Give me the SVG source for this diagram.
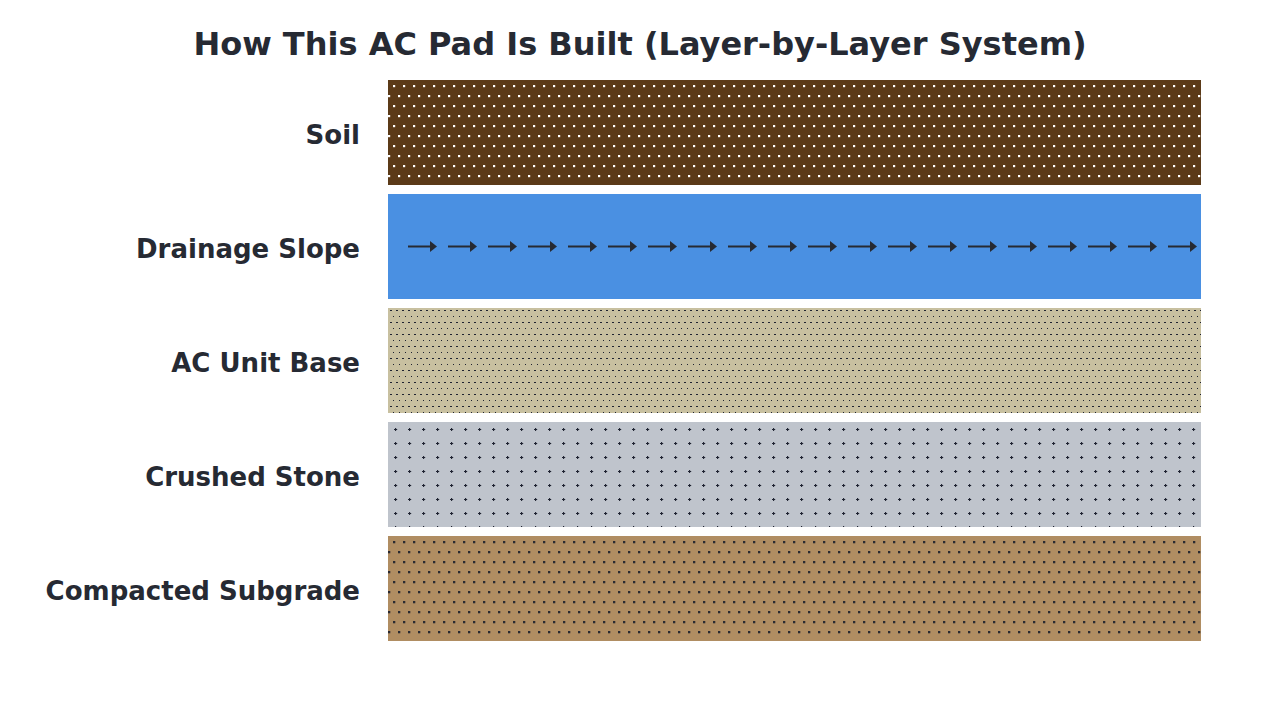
<svg xmlns="http://www.w3.org/2000/svg" xmlns:xlink="http://www.w3.org/1999/xlink" width="1280" height="720" viewBox="0 0 1280 720">
  <style>
    .title { font-family: "DejaVu Sans", "Liberation Sans", sans-serif; font-weight: bold; font-size: 32px; fill: #262a33; text-anchor: middle; }
    .label { font-family: "DejaVu Sans", "Liberation Sans", sans-serif; font-weight: bold; font-size: 26px; fill: #262a33; text-anchor: end; }
  </style>
  <defs>
    <pattern id="pSoil" patternUnits="userSpaceOnUse" x="388" y="80" width="10" height="20">
      <rect x="5" y="5" width="2.2" height="2.2" fill="#ffffff"/>
      <rect x="0" y="15" width="2.2" height="2.2" fill="#ffffff"/>
    </pattern>
    <pattern id="pBase" patternUnits="userSpaceOnUse" x="388" y="308" width="6" height="12">
      <rect x="2" y="2" width="2" height="1" fill="#1e2230"/>
      <rect x="5" y="8" width="2" height="1" fill="#1e2230"/>
    </pattern>
    <pattern id="pStone" patternUnits="userSpaceOnUse" x="388" y="422" width="14" height="14">
      <path d="M6 7.5 H9.2 M7.6 5.9 V9.1" stroke="#1e2230" stroke-width="1.1"/>
    </pattern>
    <pattern id="pSub" patternUnits="userSpaceOnUse" x="388" y="536" width="10" height="20">
      <rect x="5" y="5" width="2.3" height="2.3" fill="#2a2a30"/>
      <rect x="0" y="15" width="2.3" height="2.3" fill="#2a2a30"/>
    </pattern>
    <g id="arrow">
      <line x1="0" y1="0" x2="23" y2="0" stroke="#262a33" stroke-width="2"/>
      <polygon points="22,-5.5 29,0 22,5.5" fill="#262a33"/>
    </g>
  </defs>
  <rect width="1280" height="720" fill="#ffffff"/>
  <text class="title" x="640" y="55">How This AC Pad Is Built (Layer-by-Layer System)</text>

  <g id="soil">
    <rect x="388" y="80" width="813" height="105" fill="#5b3a18"/>
    <rect x="388" y="80" width="813" height="105" fill="url(#pSoil)"/>
    <text class="label" x="360" y="143.5">Soil</text>
  </g>

  <g id="drainage-slope">
    <rect x="388" y="194" width="813" height="105" fill="#4a90e2"/>
    <g transform="translate(0,246.5)">
      <use xlink:href="#arrow" x="408"/><use xlink:href="#arrow" x="448"/><use xlink:href="#arrow" x="488"/><use xlink:href="#arrow" x="528"/><use xlink:href="#arrow" x="568"/>
      <use xlink:href="#arrow" x="608"/><use xlink:href="#arrow" x="648"/><use xlink:href="#arrow" x="688"/><use xlink:href="#arrow" x="728"/><use xlink:href="#arrow" x="768"/>
      <use xlink:href="#arrow" x="808"/><use xlink:href="#arrow" x="848"/><use xlink:href="#arrow" x="888"/><use xlink:href="#arrow" x="928"/><use xlink:href="#arrow" x="968"/>
      <use xlink:href="#arrow" x="1008"/><use xlink:href="#arrow" x="1048"/><use xlink:href="#arrow" x="1088"/><use xlink:href="#arrow" x="1128"/><use xlink:href="#arrow" x="1168"/>
    </g>
    <text class="label" x="360" y="257.5">Drainage Slope</text>
  </g>

  <g id="ac-unit-base">
    <rect x="388" y="308" width="813" height="105" fill="#c8c0a0"/>
    <rect x="388" y="308" width="813" height="105" fill="url(#pBase)"/>
    <text class="label" x="360" y="371.5">AC Unit Base</text>
  </g>

  <g id="crushed-stone">
    <rect x="388" y="422" width="813" height="105" fill="#bfc4cc"/>
    <rect x="388" y="422" width="813" height="105" fill="url(#pStone)"/>
    <text class="label" x="360" y="485.5">Crushed Stone</text>
  </g>

  <g id="compacted-subgrade">
    <rect x="388" y="536" width="813" height="105" fill="#b08d62"/>
    <rect x="388" y="536" width="813" height="105" fill="url(#pSub)"/>
    <text class="label" x="360" y="599.5">Compacted Subgrade</text>
  </g>

  <g id="connectors"></g>
</svg>
